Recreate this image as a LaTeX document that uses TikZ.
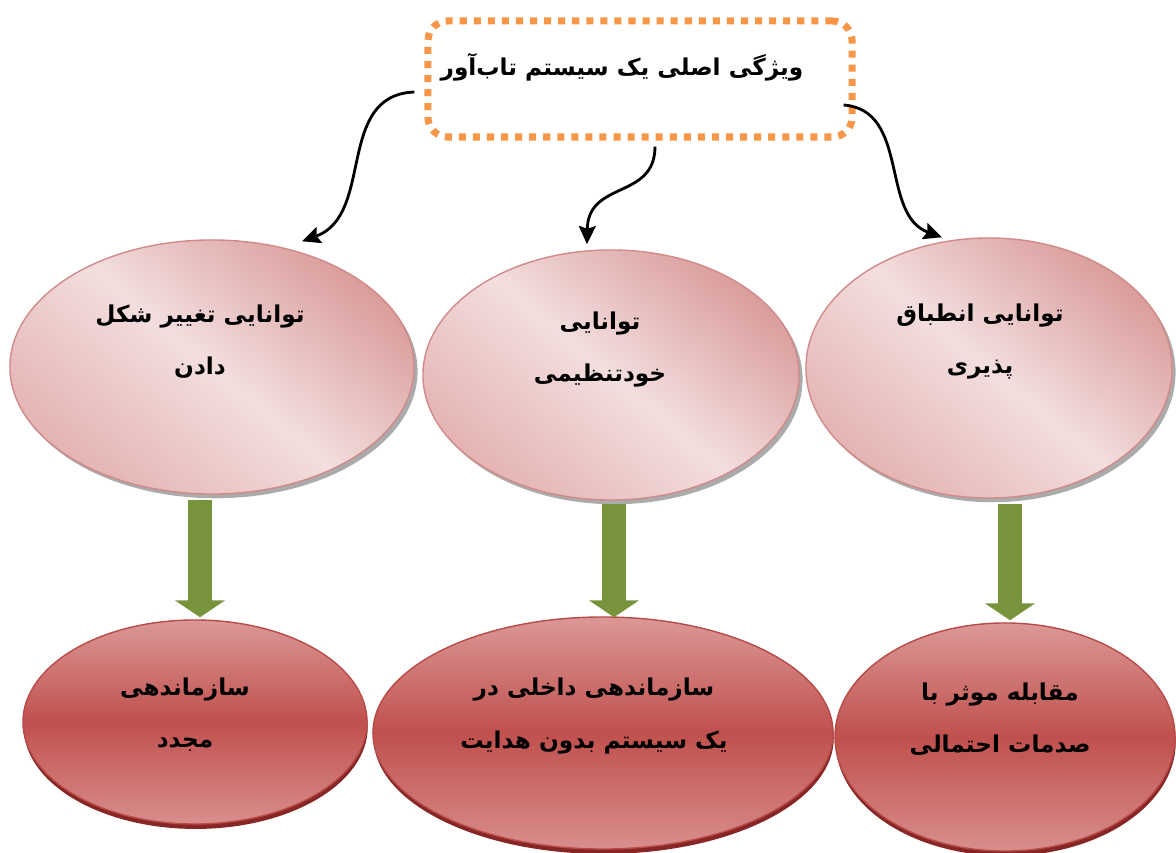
\documentclass[tikz,border=0pt]{standalone}
\usepackage{fontspec}
\newfontfamily\arabicfont[Script=Arabic]{DejaVu Sans}
\TeXXeTstate=1
\usetikzlibrary{shapes.geometric, arrows.meta, shadows, calc}
\definecolor{boxorange}{HTML}{F79646}
\definecolor{pinkdark}{HTML}{DA9D9C}
\definecolor{pinkmid}{HTML}{E4B4B3}
\definecolor{pinklight}{HTML}{F3DEDE}
\definecolor{pinkline}{HTML}{D08A89}
\definecolor{redtop}{HTML}{DB9897}
\definecolor{redmid}{HTML}{C0504D}
\definecolor{redbottom}{HTML}{D88E8D}
\definecolor{redline}{HTML}{B84A47}
\definecolor{arrowgreen}{HTML}{77933C}
\newcommand{\fa}[1]{\beginR #1\endR}
\tikzset{
  fa_text/.style = {font=\arabicfont\bfseries\fontsize{16.5}{37}\selectfont, align=center, inner sep=0},
  main_box/.style = {draw=boxorange, line width=5pt, dash pattern=on 5pt off 5pt,
      rounded corners=14pt, minimum width=10.6cm, minimum height=2.9cm},
  top_ellipse/.style = {ellipse, draw=pinkline, line width=1pt, inner sep=0,
      top color=pinkdark, bottom color=pinkmid, middle color=pinklight, shading angle=-40,
      drop shadow={shadow xshift=2.5pt, shadow yshift=-3pt, fill=black!55, opacity=0.6}},
  bottom_ellipse/.style = {ellipse, draw=redline, line width=1pt, inner sep=0,
      top color=redtop, bottom color=redbottom, middle color=redmid,
      drop shadow={shadow xshift=0.5pt, shadow yshift=-3.5pt, fill=red!45!black, opacity=0.85}},
  curve_arrow/.style = {line width=2pt, -{Stealth[length=13pt, width=12pt, inset=2pt]}},
  green_arrow/.style = {arrowgreen, line width=17pt, -{Triangle[width=35pt, length=12pt]}}
}
\begin{document}
\begin{tikzpicture}[x=0.025cm, y=-0.025cm]
    \useasboundingbox (0,0) rectangle (1176,853);

    % Title box
    \node[main_box] (top) at (640,79) {};
    \node[fa_text] (top_txt) at (622,67) {\fa{ویژگی اصلی یک سیستم تاب‌آور}};

    % Abilities
    \node[top_ellipse, minimum width=10.1cm, minimum height=6.35cm] (t1) at (212,367) {};
    \node[top_ellipse, minimum width=9.4cm, minimum height=6.25cm] (t2) at (611,375) {};
    \node[top_ellipse, minimum width=9.15cm, minimum height=6.5cm] (t3) at (989,368) {};

    \node[fa_text] (t1_txt) at (200,342) {\fa{توانایی تغییر شکل}\\\fa{دادن}};
    \node[fa_text] (t2_txt) at (600,350) {\fa{توانایی}\\\fa{خودتنظیمی}};
    \node[fa_text] (t3_txt) at (980,342) {\fa{توانایی انطباق}\\\fa{پذیری}};

    % Outcomes
    \node[bottom_ellipse, minimum width=8.6cm, minimum height=5.1cm] (b1) at (195,722) {};
    \node[bottom_ellipse, minimum width=11.5cm, minimum height=5.8cm] (b2) at (603,733) {};
    \node[bottom_ellipse, minimum width=8.5cm, minimum height=5.7cm] (b3) at (1005,737) {};

    \node[fa_text] (b1_txt) at (185,715) {\fa{سازماندهی}\\\fa{مجدد}};
    \node[fa_text] (b2_txt) at (594,716) {\fa{سازماندهی داخلی در}\\\fa{یک سیستم بدون هدایت}};
    \node[fa_text] (b3_txt) at (1000,719) {\fa{مقابله موثر با}\\\fa{صدمات احتمالی}};

    % Arrows
    \draw[curve_arrow] ([shift={(-10,13)}]top.west) .. controls (335,95) and (375,215) .. ([shift={(90,2)}]t1.north);
    \draw[curve_arrow] ([shift={(15,6)}]top.south) .. controls (655,200) and (588,180) .. ([shift={(-24,-5)}]t2.north);
    \draw[curve_arrow] ([shift={(-12,26)}]top.east) .. controls (910,110) and (880,215) .. ([shift={(-47,0)}]t3.north);

    \draw[green_arrow] ([shift={(-12,5)}]t1.south) -- ($(t1.south |- b1.north)+(-12,-2)$);
    \draw[green_arrow] ([shift={(3,3)}]t2.south) -- ($(t2.south |- b2.north)+(3,1)$);
    \draw[green_arrow] ([shift={(21,5)}]t3.south) -- ($(t3.south |- b3.north)+(21,-2)$);
\end{tikzpicture}
\end{document}
